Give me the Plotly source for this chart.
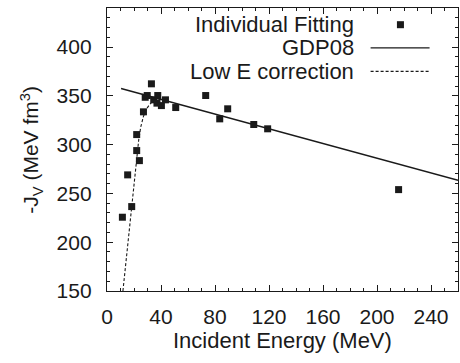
import plotly.graph_objects as go

# Individual optical-model fits: incident energy (MeV) and volume integral -J_V (MeV fm^3)
fit_energy = [11.4, 15.3, 18.3, 22.0, 22.0, 24.0, 27.0, 28.3, 29.8, 32.9,
              34.6, 37.0, 37.6, 40.3, 43.3, 50.9, 73.1, 83.5, 89.4, 108.7,
              119.0, 216.0]
fit_jv = [225.6, 269.0, 236.5, 310.3, 293.9, 283.6, 333.6, 348.5, 350.3, 362.3,
          345.9, 342.5, 350.3, 340.0, 345.9, 338.0, 350.3, 326.4, 336.7, 320.6,
          316.2, 253.9]

# GDP08 global systematics (straight line over the plotted energy span)
gdp_energy = [10.4, 260.0]
gdp_jv = [357.5, 263.5]

# Low-energy correction curve
lowe_energy = [11.8, 14.0, 16.0, 18.0, 20.0, 22.0, 23.5, 25.0, 27.0, 29.0,
               31.5, 34.0, 37.0, 40.0]
lowe_jv = [150.0, 180.0, 207.0, 234.0, 262.0, 288.0, 305.0, 318.0, 329.0, 336.0,
           341.0, 344.5, 346.0, 346.3]

ink = "#1a1a1a"
font_family = "Liberation Sans, Arial, sans-serif"

fig = go.Figure()
fig.add_trace(go.Scatter(x=gdp_energy, y=gdp_jv, mode="lines",
                         line=dict(color=ink, width=1.4), name="GDP08"))
fig.add_trace(go.Scatter(x=lowe_energy, y=lowe_jv, mode="lines",
                         line=dict(color=ink, width=1.1, dash="3px,2px"),
                         name="Low E correction"))
fig.add_trace(go.Scatter(x=fit_energy, y=fit_jv, mode="markers",
                         marker=dict(symbol="square", size=7, color=ink,
                                     line=dict(width=0)),
                         name="Individual Fitting"))

axis_common = dict(
    showline=True, linecolor=ink, linewidth=1.4, mirror="allticks",
    ticks="inside", ticklen=6, tickwidth=1, tickcolor=ink,
    showgrid=False, zeroline=False, automargin=False,
    ticklabelposition="outside",
    tickfont=dict(family=font_family, size=21, color=ink),
)

fig.update_xaxes(
    range=[0, 260], dtick=40, tick0=0,
    minor=dict(dtick=10, ticks="inside", ticklen=3, tickcolor=ink, showgrid=False),
    ticklabelstandoff=7,
    **axis_common,
)
fig.update_yaxes(
    range=[150, 440], dtick=50, tick0=150,
    minor=dict(dtick=10, ticks="inside", ticklen=3, tickcolor=ink, showgrid=False),
    ticklabelstandoff=10,
    **axis_common,
)

# Legend drawn in paper coordinates: label on the left, sample on the right
legend_labels = ["Individual Fitting", "GDP08", "Low E correction"]
legend_y = [0.941, 0.859, 0.776]
text_right = 0.709
sample_x0, sample_x1 = 0.751, 0.919
annotations = []
shapes = []
for label, ly in zip(legend_labels, legend_y):
    annotations.append(dict(text=label, x=text_right, y=ly, xref="paper", yref="paper",
                            xanchor="right", yanchor="middle", showarrow=False,
                            font=dict(family=font_family, size=22, color=ink)))

# Axis titles
annotations.append(dict(text="Incident Energy (MeV)",
                        x=0.5, y=-0.175, xref="paper", yref="paper",
                        xanchor="center", yanchor="middle", showarrow=False,
                        font=dict(family=font_family, size=22, color=ink)))
annotations.append(dict(text="-J<sub>V</sub> (MeV fm<sup>3</sup>)",
                        x=-0.216, y=0.5, xref="paper", yref="paper",
                        xanchor="center", yanchor="middle", textangle=-90,
                        showarrow=False,
                        font=dict(family=font_family, size=21, color=ink)))

mx, my = 0.836, legend_y[0]
shapes.append(dict(type="rect", xref="paper", yref="paper",
                   x0=mx - 0.0100, x1=mx + 0.0100, y0=my - 0.0124, y1=my + 0.0124,
                   fillcolor=ink, line=dict(width=0)))
shapes.append(dict(type="line", xref="paper", yref="paper",
                   x0=sample_x0, x1=sample_x1, y0=legend_y[1], y1=legend_y[1],
                   line=dict(color=ink, width=1.4)))
shapes.append(dict(type="line", xref="paper", yref="paper",
                   x0=sample_x0, x1=sample_x1, y0=legend_y[2], y1=legend_y[2],
                   line=dict(color=ink, width=1.1, dash="3px,2px")))

fig.update_layout(
    width=460, height=363,
    margin=dict(l=107, r=2, t=8, b=72),
    paper_bgcolor="white", plot_bgcolor="white",
    showlegend=False,
    annotations=annotations, shapes=shapes,
    font=dict(family=font_family, color=ink),
)

fig.write_html("out.html")
